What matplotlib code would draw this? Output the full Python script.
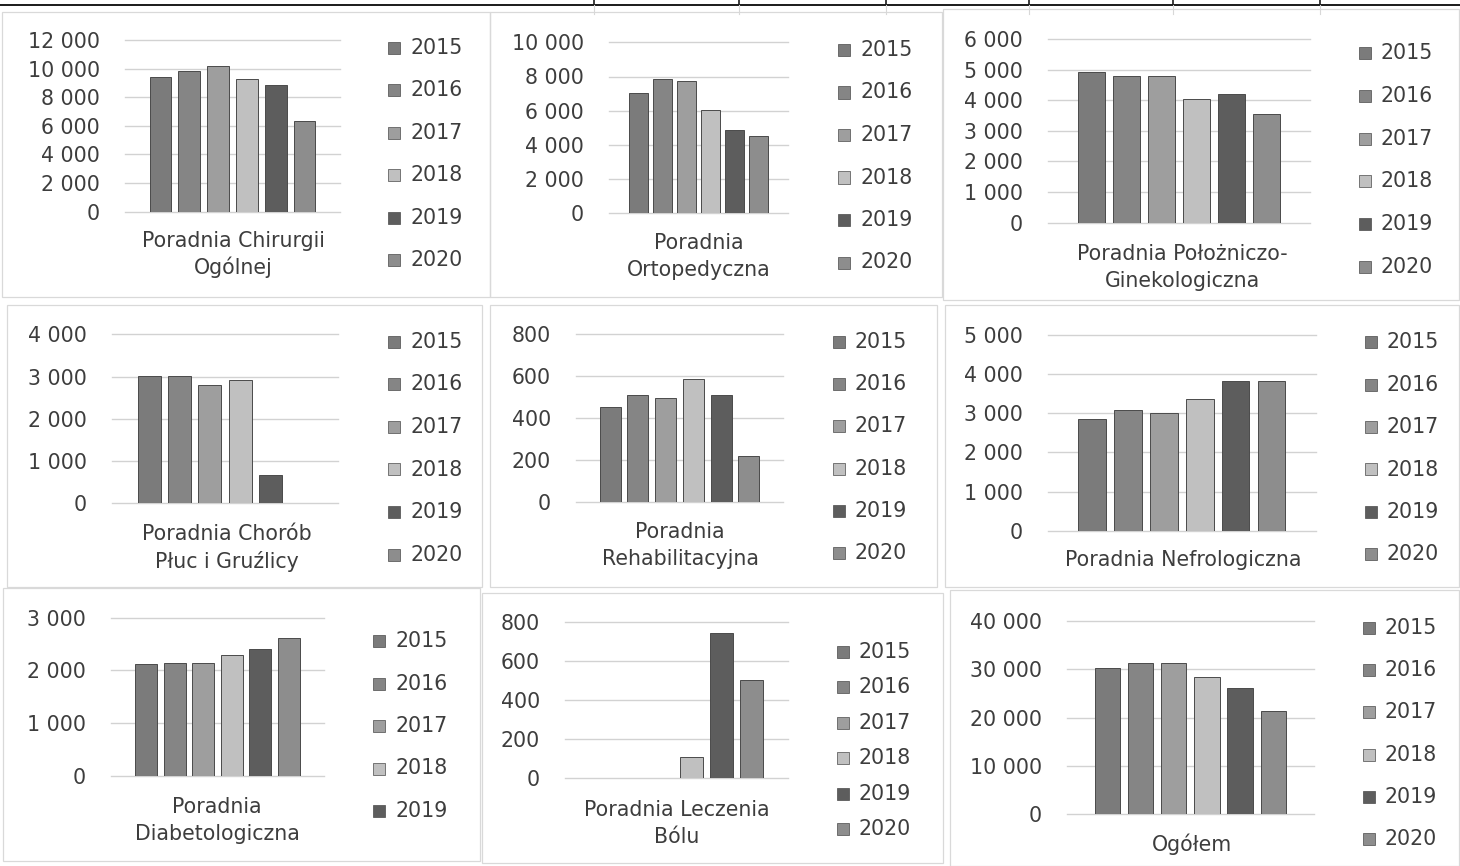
import matplotlib
matplotlib.use("Agg")
import matplotlib.pyplot as plt
from matplotlib.patches import Rectangle
from matplotlib.lines import Line2D

# ---- data -------------------------------------------------------------
years = ["2015", "2016", "2017", "2018", "2019", "2020"]

chirurgia = [9400, 9800, 10200, 9250, 8850, 6350]
ortopedia = [7050, 7850, 7750, 6050, 4850, 4500]
poloznictwo = [4930, 4800, 4780, 4040, 4210, 3550]
pulmonologia = [3020, 3010, 2810, 2910, 670, 0]
rehabilitacja = [452, 512, 496, 585, 512, 218]
nefrologia = [2850, 3090, 3000, 3370, 3815, 3815]
diabetologia = [2115, 2150, 2150, 2285, 2405, 2620]
leczenie_bolu = [0, 0, 0, 106, 744, 501]
ogolem = [30300, 31250, 31200, 28450, 26100, 21350]

titles = [
    "Poradnia Chirurgii\nOgólnej",
    "Poradnia\nOrtopedyczna",
    "Poradnia Położniczo-\nGinekologiczna",
    "Poradnia Chorób\nPłuc i Gruźlicy",
    "Poradnia\nRehabilitacyjna",
    "Poradnia Nefrologiczna",
    "Poradnia\nDiabetologiczna",
    "Poradnia Leczenia\nBólu",
    "Ogółem",
]
series = [chirurgia, ortopedia, poloznictwo, pulmonologia, rehabilitacja,
          nefrologia, diabetologia, leczenie_bolu, ogolem]
y_max = [12000, 10000, 6000, 4000, 800, 5000, 3000, 800, 40000]
y_step = [2000, 2000, 1000, 1000, 200, 1000, 1000, 200, 10000]
legend_count = [6, 6, 6, 6, 6, 6, 5, 6, 6]

# ---- styling ----------------------------------------------------------
W, H = 1460, 866
bar_colors = ["#7b7b7b", "#858585", "#9e9e9e", "#c0c0c0", "#5d5d5d", "#8d8d8d"]
edge_color = "#4a4a4a"
text_color = "#3d3d3d"
grid_color = "#d2d2d2"
frame_color = "#d9d9d9"
FS = 14.8
plt.rcParams["font.family"] = ["DejaVu Sans"]

# panel geometry in pixels
axes_px = [  # x0, x1, y_top, y_bottom
    (125, 340, 40, 211.7),
    (609, 788, 42.3, 213.3),
    (1048, 1310, 39, 222.7),
    (111.7, 338.3, 334.3, 503.3),
    (576, 783, 334.3, 502),
    (1047.7, 1316, 335, 530.7),
    (111, 324, 617.7, 776),
    (565, 788, 621.7, 778),
    (1066.7, 1314, 620.7, 814.3),
]
legend_px = [  # square x, first row y, row spacing
    (388, 47.7, 42.5),
    (838, 50, 42.5),
    (1359, 53.3, 42.7),
    (388, 341.7, 42.6),
    (833, 341.7, 42.3),
    (1365, 342.3, 42.4),
    (373, 641, 42.5),
    (837, 651.7, 35.5),
    (1363, 627.7, 42.3),
]
label_px = [  # centre x, first line y
    (233, 240.7), (699, 243.3), (1182, 254),
    (227, 534.3), (680, 532.3), (1183, 560),
    (217, 806.7), (677, 810), (1192, 844.3),
]
frames_px = [  # x0, y0, x1, y1
    (2, 12, 490, 297), (490, 12, 942, 297), (943, 9, 1459, 300),
    (7, 305, 482, 587), (490, 305, 937, 587), (945, 305, 1459, 587),
    (3, 588, 480, 861), (482, 593, 943, 863), (950, 590, 1459, 866),
]
table_cols_px = [594, 739, 886, 1029, 1173, 1320]


def fx(x):
    return x / W


def fy(y):
    return 1 - y / H


def fmt(v):
    return f"{v:,}".replace(",", " ")


fig = plt.figure(figsize=(W / 100, H / 100), dpi=100)
fig.patch.set_facecolor("white")

# header rule of the surrounding table
fig.add_artist(Line2D([0, 1], [fy(5), fy(5)], transform=fig.transFigure,
                      color="#1a1a1a", lw=1.4))
for cx in table_cols_px:
    fig.add_artist(Line2D([fx(cx), fx(cx)], [fy(0), fy(5)],
                          transform=fig.transFigure, color="#1a1a1a", lw=1.2))
    fig.add_artist(Line2D([fx(cx), fx(cx)], [fy(5), fy(14)],
                          transform=fig.transFigure, color="#d8d8d8", lw=0.8))

# chart frames
for (x0, y0, x1, y1) in frames_px:
    fig.add_artist(Rectangle((fx(x0), fy(y1)), fx(x1) - fx(x0), fy(y0) - fy(y1),
                             transform=fig.transFigure, fill=False,
                             edgecolor=frame_color, lw=0.9))

step = 0.134
width = 0.102

for k in range(9):
    x0, x1, yt, yb = axes_px[k]
    ax = fig.add_axes([fx(x0), fy(yb), (x1 - x0) / W, (yb - yt) / H])
    vals = series[k]
    xs = [(i - 2.5) * step for i in range(len(vals))]
    edges = [edge_color if v > 0 else "none" for v in vals]
    ax.bar(xs, vals, width=width, color=bar_colors, edgecolor=edges,
           linewidth=0.7, zorder=3)
    ax.set_xlim(-0.5, 0.5)
    ax.set_ylim(0, y_max[k])
    ticks = list(range(0, y_max[k] + 1, y_step[k]))
    ax.set_yticks(ticks)
    ax.set_yticklabels([fmt(t) for t in ticks])
    for t in ticks:
        ax.axhline(t, color=grid_color, lw=1.0, zorder=1, clip_on=False)
    ax.set_xticks([])
    ax.tick_params(axis="y", length=0, pad=18, labelsize=FS,
                   labelcolor=text_color)
    for s in ax.spines.values():
        s.set_visible(False)
    ax.patch.set_alpha(0)

    # legend
    sx, ly, dy = legend_px[k]
    for i in range(legend_count[k]):
        yy = ly + i * dy
        fig.add_artist(Rectangle((fx(sx), fy(yy + 6)), 12 / W, 12 / H,
                                 transform=fig.transFigure,
                                 facecolor=bar_colors[i], edgecolor=edge_color,
                                 lw=0.5))
        fig.text(fx(sx + 22), fy(yy), years[i], fontsize=FS, color=text_color,
                 ha="left", va="center")

    # category label
    cx, cy = label_px[k]
    for j, line in enumerate(titles[k].split("\n")):
        fig.text(fx(cx), fy(cy + j * 27), line, fontsize=FS, color=text_color,
                 ha="center", va="center")

fig.savefig("out.png", dpi=100, facecolor="white")
